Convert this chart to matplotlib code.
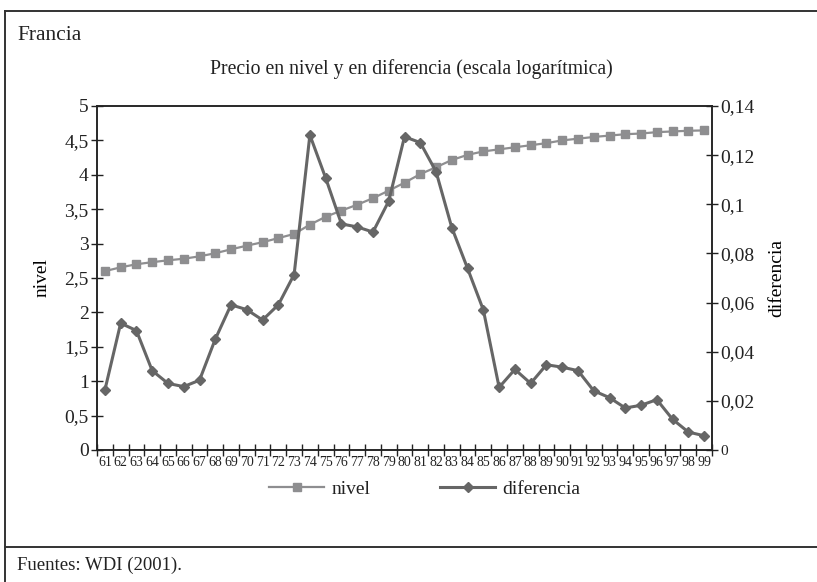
#!/usr/bin/env python3
"""Francia: precio en nivel y en diferencia (escala logaritmica), 1961-1999."""
import numpy as np
import matplotlib
matplotlib.use("Agg")
import matplotlib.pyplot as plt
from matplotlib.lines import Line2D
from matplotlib.ticker import FixedLocator, FuncFormatter

plt.rcParams['font.family'] = ['Liberation Serif', 'DejaVu Serif']
plt.rcParams['text.color'] = '#222222'

# Data ------------------------------------------------------------------
years = ['61', '62', '63', '64', '65', '66', '67', '68', '69', '70',
         '71', '72', '73', '74', '75', '76', '77', '78', '79', '80',
         '81', '82', '83', '84', '85', '86', '87', '88', '89', '90',
         '91', '92', '93', '94', '95', '96', '97', '98', '99']

nivel = [2.60, 2.655, 2.70, 2.73, 2.757, 2.78, 2.815, 2.86, 2.917, 2.97,
         3.02, 3.08, 3.14, 3.275, 3.39, 3.48, 3.565, 3.66, 3.77, 3.885,
         4.01, 4.11, 4.215, 4.29, 4.34, 4.37, 4.40, 4.43, 4.46, 4.50,
         4.525, 4.55, 4.57, 4.59, 4.60, 4.62, 4.63, 4.64, 4.645]

diferencia = [0.0244, 0.0516, 0.0486, 0.0323, 0.0271, 0.0258, 0.0284,
              0.0451, 0.0591, 0.0571, 0.0529, 0.0591, 0.0714, 0.1282,
              0.1107, 0.0920, 0.0908, 0.0887, 0.1013, 0.1275, 0.1251,
              0.1133, 0.0905, 0.0739, 0.0570, 0.0255, 0.0328, 0.0271,
              0.0347, 0.0337, 0.0323, 0.0241, 0.0213, 0.0171, 0.0182,
              0.0205, 0.0125, 0.0073, 0.0058]

left_ticks = [0, 0.5, 1, 1.5, 2, 2.5, 3, 3.5, 4, 4.5, 5]
right_ticks = [0, 0.02, 0.04, 0.06, 0.08, 0.10, 0.12, 0.14]

NIVEL_COLOR = '#8e8e90'
DIF_COLOR = '#666666'


def comma(v, pos=None):
    # decimal comma, no trailing zeros: 0,1 / 0,08 / 2,5
    s = '{:.2f}'.format(v).rstrip('0').rstrip('.')
    return s.replace('.', ',')


fig = plt.figure(figsize=(8.17, 5.82), dpi=100)
ax = fig.add_axes([97 / 817, 1 - 450 / 582, 615 / 817, 344 / 582])
ax2 = ax.twinx()

x = np.arange(len(years))
ax.plot(x, nivel, color=NIVEL_COLOR, lw=1.6, marker='s', ms=6,
        mec=NIVEL_COLOR, mfc=NIVEL_COLOR, zorder=3)
ax2.plot(x, diferencia, color=DIF_COLOR, lw=2.2, marker='D', ms=5,
         mec=DIF_COLOR, mfc=DIF_COLOR, zorder=4)

# x axis: ticks between the years, labels centred under each year
ax.set_xlim(-0.5, len(years) - 0.5)
ax.xaxis.set_major_locator(FixedLocator(np.arange(-0.5, len(years), 1.0)))
ax.xaxis.set_major_formatter(FuncFormatter(lambda v, p: ''))
ax.xaxis.set_minor_locator(FixedLocator(x))
ax.set_xticklabels(years, minor=True)
ax.tick_params(axis='x', which='major', direction='inout', length=8,
               width=1.0, color='#222222')
ax.tick_params(axis='x', which='minor', length=0, pad=4, labelsize=10,
               labelcolor='#222222')

ax.set_ylim(0, 5)
ax.set_yticks(left_ticks)
ax.yaxis.set_major_formatter(FuncFormatter(comma))
ax.tick_params(axis='y', direction='inout', length=8, width=1.0,
               labelsize=14, pad=2, color='#222222', labelcolor='#222222')

ax2.set_ylim(0, 0.14)
ax2.set_yticks(right_ticks)
ax2.yaxis.set_major_formatter(FuncFormatter(comma))
ax2.tick_params(axis='y', direction='inout', length=8, width=1.0,
                labelsize=14, pad=2, color='#222222', labelcolor='#222222')
ax2.get_yticklabels()[0].set_fontsize(11)

for a in (ax, ax2):
    for sp in a.spines.values():
        sp.set_linewidth(1.1)
        sp.set_color('#222222')

ax.set_ylabel('nivel', fontsize=14, labelpad=10)
ax2.set_ylabel('diferencia', fontsize=14, labelpad=10)

# Titles and source
fig.text(17 / 817, 1 - 36 / 582, 'Francia', fontsize=15.5, va='center',
         ha='left')
fig.text(411 / 817, 1 - 69 / 582,
         'Precio en nivel y en diferencia (escala logarítmica)',
         fontsize=14.2, va='center', ha='center')
fig.text(17 / 817, 1 - 565 / 582, 'Fuentes: WDI (2001).', fontsize=13.5,
         va='center', ha='left')

# Legend below the plot
handles = [Line2D([], [], color=NIVEL_COLOR, lw=1.6, marker='s', ms=6,
                  mec=NIVEL_COLOR, mfc=NIVEL_COLOR),
           Line2D([], [], color=DIF_COLOR, lw=2.2, marker='D', ms=5,
                  mec=DIF_COLOR, mfc=DIF_COLOR)]
fig.legend(handles, ['nivel', 'diferencia'], loc='center',
           bbox_to_anchor=(425 / 817, 1 - 489 / 582), ncol=2, frameon=False,
           fontsize=14, handlelength=2.8, handletextpad=0.4,
           columnspacing=3.6)

# Outer frame and the rule above the source line
frame_kw = dict(color='#333333', lw=1.4, transform=fig.transFigure)
fig.add_artist(Line2D([5 / 817, 5 / 817], [0, 1 - 11 / 582], **frame_kw))
fig.add_artist(Line2D([5 / 817, 1], [1 - 11 / 582, 1 - 11 / 582], **frame_kw))
fig.add_artist(Line2D([5 / 817, 1], [1 - 547 / 582, 1 - 547 / 582],
                      **frame_kw))

fig.savefig('out.png', dpi=100)
